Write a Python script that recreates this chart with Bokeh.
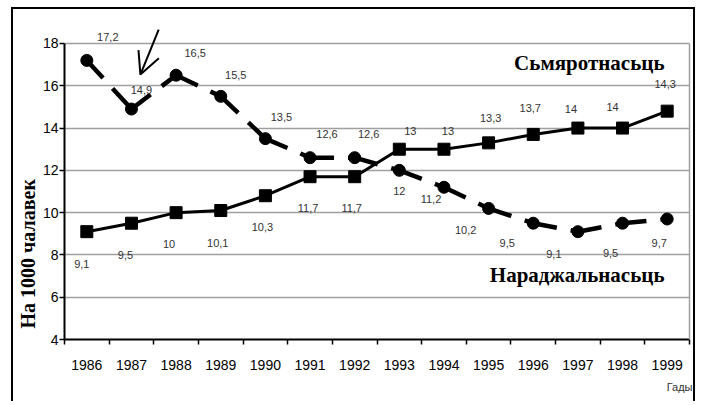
from bokeh.plotting import figure
from bokeh.models import (ColumnDataSource, LabelSet, Label, FixedTicker, Range1d,
                          Arrow, OpenHead, LinearAxis, Title)
from bokeh.core.properties import value
from bokeh.embed import file_html
from bokeh.resources import INLINE

# ---- data ----
years = [1986, 1987, 1988, 1989, 1990, 1991, 1992, 1993, 1994, 1995, 1996, 1997, 1998, 1999]
births = [17.2, 14.9, 16.5, 15.5, 13.5, 12.6, 12.6, 12.0, 11.2, 10.2, 9.5, 9.1, 9.5, 9.7]
births_labels = ["17,2", "14,9", "16,5", "15,5", "13,5", "12,6", "12,6", "12", "11,2", "10,2",
                 "9,5", "9,1", "9,5", "9,7"]
deaths = [9.1, 9.5, 10.0, 10.1, 10.8, 11.7, 11.7, 13.0, 13.0, 13.3, 13.7, 14.0, 14.0, 14.8]
deaths_labels = ["9,1", "9,5", "10", "10,1", "10,3", "11,7", "11,7", "13", "13", "13,3",
                 "13,7", "14", "14", "14,3"]
y_ticks = [4, 6, 8, 10, 12, 14, 16, 18]
deaths_name = "Сьмяротнасьць"
births_name = "Нараджальнасьць"
y_title = "На 1000 чалавек"
x_title = "Гады"

# ---- label offsets (style: pixels, right / down) ----
births_dx = [21, 10, 19, 15, 16, 17, 14, 0, -13, -23, -26, -24, -12, -8]
births_dy = [-23, -19, -22, -21, -22, -24, -24, 21, 12, 22, 20, 22, 30, 24]
deaths_dx = [-5, -6, -7, -3, -3, -2, -3, 11, 4, 2, -3, -7, -10, -2]
deaths_dy = [32, 32, 31, 32, 31, 31, 31, -18, -18, -25, -26, -19, -21, -27]

xs = [i + 0.5 for i in range(len(years))]
y_lo, y_hi = y_ticks[0], y_ticks[-1]

p = figure(width=684, height=394, x_range=Range1d(0, len(years)), y_range=Range1d(y_lo, y_hi + 1.608),
           output_backend="svg", toolbar_location=None,
           min_border_left=51, min_border_right=8, min_border_top=0, min_border_bottom=64,
           styles={"margin-left": "11px", "margin-top": "7px", "border-left": "2px solid black",
                   "border-top": "2px solid black", "border-right": "2px solid black"})
p.background_fill_color = "white"
p.border_fill_color = "white"
p.outline_line_color = None

# x axis
xa = p.xaxis[0]
xa.ticker = FixedTicker(ticks=xs, minor_ticks=list(range(len(years) + 1)))
xa.major_label_overrides = {x: str(y) for x, y in zip(xs, years)}
xa.major_tick_out = 0
xa.major_tick_in = 0
xa.minor_tick_out = 5
xa.minor_tick_in = 0
xa.minor_tick_line_color = "black"
xa.minor_tick_line_width = 1.5
xa.major_label_standoff = 15

# main y axis
ya = p.yaxis[0]
ya.ticker = FixedTicker(ticks=y_ticks)
ya.bounds = (y_lo, y_hi)
ya.major_tick_out = 5
ya.major_tick_in = 0
ya.minor_tick_out = 0
ya.minor_tick_in = 0
ya.major_tick_line_width = 1.5
ya.major_label_standoff = 1

for ax in (xa, ya):
    ax.axis_line_width = 2
    ax.axis_line_color = "black"
    ax.major_tick_line_color = "black"
    ax.major_label_text_font = "Liberation Sans"
    ax.major_label_text_font_size = "14px"
    ax.major_label_text_color = "black"

# axis titles as side titles (so they can be aligned)
p.add_layout(Title(text=y_title, align="left", offset=11, standoff=2,
                   text_font="Liberation Serif", text_font_style="bold",
                   text_font_size="20px", text_color="black"), "left")
p.add_layout(Title(text=x_title, align="right", offset=-3, standoff=12,
                   text_font="Liberation Sans", text_font_style="normal",
                   text_font_size="11px", text_color="#333333"), "below")

# grey right border of the plot area
ra = LinearAxis(ticker=FixedTicker(ticks=[]), bounds=(y_lo, y_hi), axis_line_color="#a0a0a0",
                axis_line_width=1.5, major_tick_line_color=None, minor_tick_line_color=None)
p.add_layout(ra, "right")

p.xgrid.visible = False
p.ygrid.grid_line_color = "#a0a0a0"
p.ygrid.grid_line_width = 1.5

# series
src_d = ColumnDataSource(dict(x=xs, y=deaths, t=deaths_labels, dx=deaths_dx,
                              dy=[-v for v in deaths_dy]))
src_b = ColumnDataSource(dict(x=xs, y=births, t=births_labels, dx=births_dx,
                              dy=[-v for v in births_dy]))

p.line("x", "y", source=src_d, line_color="black", line_width=3)
p.scatter("x", "y", source=src_d, marker="square", size=12, color="black")

seg = ColumnDataSource(dict(x0=xs[:-1], y0=births[:-1], x1=xs[1:], y1=births[1:]))
p.segment("x0", "y0", "x1", "y1", source=seg, line_color="black", line_width=4.5,
          line_dash="24 14", line_cap="butt")
p.scatter("x", "y", source=src_b, marker="circle", size=12, color="black")

for src in (src_d, src_b):
    p.add_layout(LabelSet(x="x", y="y", text="t", x_offset="dx", y_offset="dy", source=src,
                          text_align="center", text_baseline="middle",
                          text_font=value("Liberation Sans"), text_font_size="11px",
                          text_color="#333333"))

# series names
p.add_layout(Label(x=13.44, y=17.1, text=deaths_name, text_align="right", text_baseline="middle",
                   text_font="Liberation Serif", text_font_style="bold", text_font_size="21px",
                   text_color="black"))
p.add_layout(Label(x=13.44, y=7.03, text=births_name, text_align="right", text_baseline="middle",
                   text_font="Liberation Serif", text_font_style="bold", text_font_size="21px",
                   text_color="black"))

# hand-drawn arrow pointing at 1987 births value
p.add_layout(Arrow(end=OpenHead(size=22, line_width=2, line_color="black"),
                   x_start=xs[1] + 0.61, y_start=births[1] + 3.76,
                   x_end=xs[1] + 0.2, y_end=births[1] + 1.63,
                   line_width=2, line_color="black"))

open("out.html", "w").write(file_html(p, INLINE))
